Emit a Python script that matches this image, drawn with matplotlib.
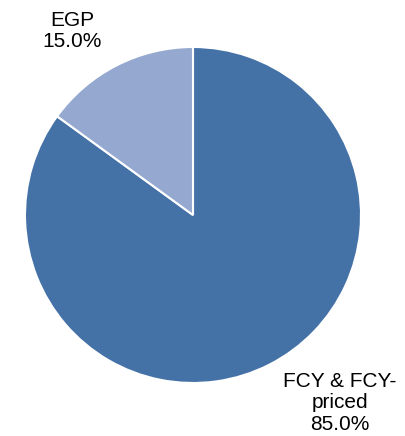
import matplotlib.pyplot as plt

# currency split
categories = ['FCY & FCY-\npriced', 'EGP']
shares = [85.0, 15.0]
colors = ['#4472A7', '#95A9D0']

fig = plt.figure(figsize=(4.06, 4.36), dpi=100)
ax = fig.add_axes([0, 0, 1, 1])
ax.set_xlim(0, 406)
ax.set_ylim(0, 436)
ax.axis('off')

ax.pie(shares, colors=colors, startangle=90, counterclock=False,
       center=(193, 221), radius=168,
       wedgeprops=dict(edgecolor='white', linewidth=1.5))

# labels placed outside the pie
label_pos = [(340, 33), (72, 405)]
for name, val, (x, y) in zip(categories, shares, label_pos):
    ax.text(x, y, f'{name}\n{val:.1f}%', ha='center', va='center',
            fontsize=15, family='Liberation Sans', linespacing=1.18)

ax.set_xlim(0, 406)
ax.set_ylim(0, 436)
plt.savefig('out.png', dpi=100)
